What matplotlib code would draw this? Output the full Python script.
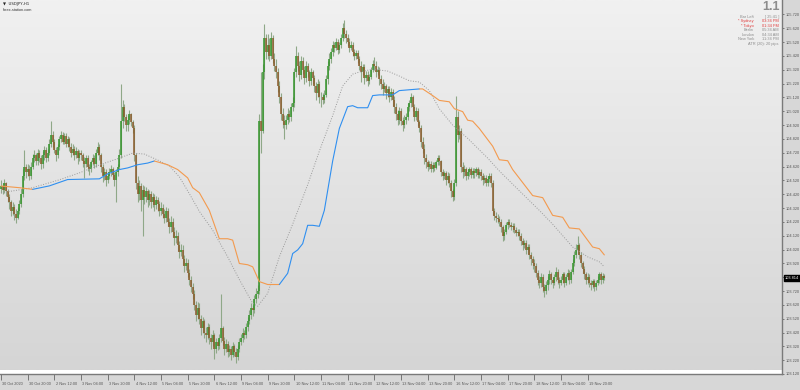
import numpy as np
import matplotlib
matplotlib.use("Agg")
import matplotlib.pyplot as plt
from matplotlib.colors import LinearSegmentedColormap
from matplotlib.transforms import ScaledTranslation, blended_transform_factory

# ---------------- data (USDJPY H1) ----------------
first_open = 104.46
closes = [
 104.48,104.45,104.50,104.44,104.40,104.36,104.30,104.33,104.28,104.25,104.30,104.35,104.42,104.55,104.62,104.58,
 104.60,104.55,104.62,104.68,104.70,104.66,104.72,104.68,104.64,104.70,104.74,104.68,104.72,104.78,104.85,104.80,
 104.74,104.70,104.76,104.82,104.85,104.80,104.84,104.78,104.82,104.76,104.72,104.75,104.70,104.73,104.68,104.72,
 104.70,104.66,104.64,104.68,104.62,104.60,104.65,104.68,104.64,104.72,104.76,104.70,104.62,104.55,104.58,104.52,
 104.55,104.58,104.60,104.56,104.52,104.58,104.62,104.70,104.95,105.05,104.98,104.92,104.96,105.00,104.94,104.90,
 104.70,104.50,104.42,104.48,104.38,104.45,104.40,104.44,104.38,104.42,104.36,104.40,104.34,104.38,104.35,104.30,
 104.32,104.28,104.25,104.30,104.22,104.18,104.22,104.15,104.10,104.12,104.05,104.00,104.02,103.95,103.90,103.92,
 103.85,103.80,103.75,103.70,103.62,103.55,103.60,103.52,103.45,103.50,103.42,103.40,103.46,103.38,103.35,103.40,
 103.30,103.35,103.32,103.38,103.45,103.36,103.30,103.34,103.28,103.30,103.26,103.32,103.28,103.24,103.30,103.35,
 103.38,103.42,103.40,103.46,103.50,103.55,103.60,103.58,103.66,103.70,103.72,104.95,104.88,105.30,105.55,105.45,
 105.50,105.42,105.55,105.40,105.35,105.30,105.20,105.12,105.00,104.95,104.92,104.96,105.00,104.98,105.05,105.08,
 105.30,105.42,105.35,105.28,105.38,105.32,105.26,105.35,105.30,105.24,105.30,105.26,105.20,105.15,105.22,105.12,
 105.12,105.10,105.14,105.25,105.35,105.40,105.45,105.50,105.48,105.52,105.46,105.50,105.55,105.62,105.58,105.55,
 105.52,105.48,105.50,105.45,105.42,105.44,105.40,105.35,105.30,105.34,105.26,105.28,105.24,105.27,105.32,105.36,
 105.35,105.30,105.32,105.25,105.22,105.18,105.20,105.15,105.18,105.12,105.16,105.10,105.05,105.00,104.96,105.02,
 104.95,104.92,104.96,104.98,105.05,105.08,105.12,105.05,104.98,105.02,104.94,104.90,104.80,104.75,104.68,104.65,
 104.62,104.64,104.60,104.63,104.61,104.65,104.68,104.66,104.58,104.55,104.57,104.52,104.55,104.50,104.44,104.40,
 104.50,104.98,104.85,104.88,104.62,104.58,104.60,104.55,104.58,104.60,104.56,104.59,104.57,104.60,104.56,104.58,
 104.55,104.52,104.54,104.50,104.53,104.55,104.50,104.30,104.26,104.25,104.24,104.22,104.18,104.12,104.15,104.20,
 104.22,104.20,104.18,104.19,104.16,104.14,104.15,104.12,104.08,104.05,104.07,104.02,104.04,103.98,103.95,103.92,
 103.90,103.85,103.80,103.78,103.82,103.75,103.72,103.76,103.80,103.84,103.80,103.78,103.82,103.86,103.80,103.78,
 103.80,103.84,103.78,103.82,103.85,103.80,103.86,103.92,103.98,104.02,104.05,103.98,103.92,103.88,103.84,103.80,
 103.82,103.78,103.76,103.79,103.75,103.78,103.80,103.84,103.80,103.83,103.814,
]
highs = [
 104.52,104.50,104.53,104.51,104.46,104.42,104.38,104.36,104.35,104.31,104.33,104.38,104.46,104.60,104.74,104.64,
 104.64,104.63,104.65,104.71,104.74,104.72,104.75,104.74,104.70,104.73,104.77,104.76,104.75,104.82,104.95,104.88,
 104.82,104.76,104.78,104.84,104.88,104.87,104.86,104.86,104.84,104.83,104.79,104.78,104.77,104.76,104.75,104.74,
 104.74,104.72,104.69,104.70,104.70,104.64,104.67,104.71,104.70,104.75,104.80,104.78,104.72,104.64,104.61,104.60,
 104.58,104.61,104.63,104.62,104.58,104.60,104.64,104.75,105.22,105.10,105.07,105.00,104.99,105.03,105.01,104.96,
 104.92,104.72,104.55,104.52,104.50,104.49,104.48,104.47,104.46,104.45,104.44,104.43,104.42,104.41,104.40,104.37,
 104.36,104.35,104.31,104.33,104.32,104.25,104.26,104.25,104.18,104.16,104.15,104.08,104.06,104.05,103.98,103.96,
 103.95,103.88,103.83,103.78,103.73,103.65,103.64,103.63,103.55,103.53,103.52,103.46,103.49,103.48,103.41,103.44,
 103.42,103.38,103.37,103.41,103.70,103.47,103.39,103.37,103.36,103.33,103.32,103.35,103.34,103.31,103.33,103.38,
 103.41,103.45,103.44,103.49,103.53,103.58,103.63,103.62,103.69,103.74,103.76,105.00,105.30,105.36,105.65,105.58,
 105.58,105.55,105.59,105.57,105.44,105.40,105.33,105.24,105.15,105.04,104.99,104.99,105.04,105.03,105.08,105.12,
 105.33,105.49,105.45,105.38,105.42,105.41,105.35,105.38,105.37,105.32,105.33,105.32,105.28,105.23,105.25,105.24,
 105.16,105.15,105.17,105.28,105.38,105.44,105.48,105.53,105.52,105.55,105.54,105.52,105.58,105.66,105.68,105.61,
 105.58,105.55,105.53,105.52,105.47,105.46,105.46,105.42,105.38,105.36,105.36,105.31,105.31,105.29,105.34,105.39,
 105.41,105.38,105.35,105.34,105.28,105.25,105.23,105.22,105.20,105.20,105.19,105.18,105.13,105.08,105.03,105.05,
 105.04,104.98,104.99,105.01,105.08,105.10,105.15,105.14,105.07,105.05,105.04,104.96,104.92,104.83,104.78,104.71,
 104.67,104.66,104.66,104.65,104.65,104.67,104.70,104.70,104.67,104.60,104.59,104.59,104.58,104.57,104.52,104.46,
 104.53,105.13,105.02,104.92,104.90,104.65,104.63,104.62,104.60,104.62,104.62,104.61,104.61,104.62,104.62,104.60,
 104.60,104.57,104.56,104.56,104.55,104.57,104.57,104.52,104.32,104.29,104.28,104.26,104.24,104.20,104.17,104.22,
 104.24,104.24,104.22,104.21,104.21,104.18,104.17,104.17,104.14,104.10,104.09,104.09,104.06,104.06,104.00,103.97,
 103.95,103.92,103.87,103.83,103.85,103.84,103.77,103.79,103.83,103.87,103.86,103.82,103.84,103.89,103.88,103.82,
 103.83,103.86,103.86,103.84,103.88,103.87,103.88,103.95,104.01,104.06,104.12,104.07,104.00,103.94,103.90,103.86,
 103.85,103.84,103.80,103.81,103.81,103.80,103.83,103.86,103.86,103.85,103.84,
]
lows = [
 104.43,104.42,104.43,104.41,104.36,104.31,104.26,104.27,104.23,104.21,104.24,104.28,104.33,104.40,104.52,104.54,
 104.55,104.52,104.53,104.60,104.65,104.63,104.63,104.65,104.60,104.61,104.67,104.65,104.66,104.70,104.76,104.76,
 104.72,104.66,104.68,104.74,104.80,104.78,104.78,104.76,104.76,104.73,104.69,104.70,104.67,104.68,104.64,104.66,
 104.67,104.62,104.54,104.62,104.59,104.56,104.58,104.63,104.61,104.62,104.70,104.67,104.58,104.51,104.52,104.48,
 104.50,104.53,104.55,104.53,104.48,104.36,104.55,104.60,104.68,104.90,104.95,104.88,104.88,104.93,104.91,104.86,
 104.66,104.46,104.36,104.38,104.30,104.12,104.35,104.36,104.33,104.34,104.32,104.33,104.30,104.31,104.30,104.26,
 104.27,104.25,104.21,104.22,104.19,104.14,104.15,104.11,104.05,104.07,104.01,103.96,103.97,103.91,103.86,103.87,
 103.82,103.76,103.71,103.66,103.58,103.50,103.52,103.48,103.40,103.42,103.38,103.35,103.37,103.34,103.30,103.32,
 103.23,103.27,103.29,103.30,103.35,103.33,103.26,103.28,103.24,103.25,103.22,103.24,103.25,103.20,103.22,103.28,
 103.33,103.35,103.37,103.38,103.43,103.48,103.52,103.54,103.56,103.63,103.67,103.70,104.72,104.86,105.25,105.40,
 105.40,105.38,105.40,105.37,105.31,105.26,105.16,105.08,104.96,104.90,104.82,104.89,104.93,104.94,104.95,105.02,
 105.05,105.27,105.31,105.24,105.25,105.29,105.22,105.23,105.27,105.20,105.21,105.22,105.16,105.10,105.12,105.08,
 105.05,105.07,105.08,105.12,105.22,105.32,105.37,105.42,105.45,105.46,105.43,105.44,105.48,105.53,105.55,105.51,
 105.49,105.45,105.46,105.42,105.39,105.40,105.37,105.32,105.23,105.28,105.22,105.24,105.20,105.22,105.25,105.30,
 105.32,105.27,105.28,105.21,105.18,105.14,105.16,105.11,105.12,105.09,105.10,105.06,105.01,104.96,104.92,104.93,
 104.92,104.88,104.90,104.93,104.96,105.02,105.05,105.02,104.95,104.96,104.91,104.87,104.76,104.72,104.64,104.61,
 104.59,104.60,104.58,104.58,104.59,104.60,104.63,104.63,104.55,104.52,104.53,104.49,104.50,104.47,104.40,104.37,
 104.38,104.48,104.80,104.82,104.58,104.54,104.55,104.52,104.53,104.55,104.54,104.54,104.54,104.55,104.54,104.54,
 104.52,104.49,104.50,104.48,104.48,104.51,104.47,104.27,104.23,104.22,104.21,104.19,104.15,104.08,104.09,104.13,
 104.17,104.18,104.16,104.15,104.14,104.12,104.12,104.09,104.05,104.02,104.03,103.99,103.99,103.95,103.91,103.88,
 103.86,103.82,103.76,103.74,103.75,103.71,103.68,103.70,103.73,103.77,103.77,103.74,103.76,103.79,103.77,103.74,
 103.76,103.78,103.75,103.76,103.80,103.77,103.78,103.84,103.90,103.96,103.99,103.95,103.89,103.85,103.81,103.77,
 103.77,103.75,103.73,103.74,103.72,103.73,103.76,103.78,103.77,103.78,103.80,
]

# trend line (orange = down, blue = up), sampled at bar indices
orange_a_bars = [0, 11, 19]
orange_a_vals = [104.479, 104.467, 104.455]
blue_a_bars = [19, 29, 40, 59, 64, 71, 76, 82, 88, 92]
blue_a_vals = [104.455, 104.480, 104.526, 104.531, 104.567, 104.598, 104.610, 104.633, 104.645, 104.660]
orange_b_bars = [92, 100, 106, 112, 115, 119, 125, 131, 136, 139, 143, 148, 151, 155, 160, 167]
orange_b_vals = [104.660, 104.633, 104.598, 104.538, 104.467, 104.431, 104.303, 104.098, 104.098, 104.088,
                 103.919, 103.910, 103.895, 103.788, 103.767, 103.767]
blue_b_bars = [167, 172, 175, 178, 181, 184, 187, 191, 194, 199, 203, 208, 211, 214, 220, 223, 227, 235, 239, 251]
blue_b_vals = [103.767, 103.848, 103.991, 104.017, 104.062, 104.195, 104.195, 104.188, 104.303, 104.660,
               104.895, 105.053, 105.060, 105.045, 105.045, 105.133, 105.138, 105.138, 105.169, 105.181]
orange_c_bars = [251, 253, 259, 263, 269, 272, 277, 280, 283, 287, 295, 299, 304, 307, 319, 325, 331, 337,
                 341, 347, 355, 359, 362]
orange_c_vals = [105.181, 105.181, 105.133, 105.098, 105.088, 105.038, 105.017, 104.955, 104.948, 104.895,
                 104.767, 104.669, 104.662, 104.598, 104.410, 104.395, 104.267, 104.253, 104.176, 104.169,
                 104.038, 104.026, 103.981]

# moving average (dotted gray)
sma_bars = [0, 19, 35, 47, 59, 71, 79, 86, 94, 101, 107, 113, 119, 127, 136, 143, 151, 154, 160, 167,
            175, 184, 191, 199, 205, 211, 215, 223, 232, 239, 245, 251, 257, 263, 271, 280, 292, 299, 311, 323,
            331, 343, 352, 359, 362]
sma_vals = [104.430, 104.467, 104.524, 104.574, 104.631, 104.681, 104.717, 104.710, 104.667, 104.624,
            104.546, 104.424, 104.296, 104.160, 103.967, 103.803, 103.631, 103.610, 103.703, 103.967,
            104.203, 104.488, 104.731, 104.988, 105.203, 105.288, 105.303, 105.324, 105.310, 105.274,
            105.240, 105.231, 105.169, 105.038, 104.919, 104.824, 104.681, 104.588, 104.445, 104.303,
            104.203, 104.038, 103.967, 103.931, 103.895]

x_tick_labels = ["30 Oct 2020", "30 Oct 20:00", "2 Nov 12:00", "3 Nov 04:00", "3 Nov 20:00", "4 Nov 12:00",
                 "5 Nov 04:00", "5 Nov 20:00", "6 Nov 12:00", "9 Nov 04:00", "9 Nov 20:00", "10 Nov 12:00",
                 "11 Nov 04:00", "11 Nov 20:00", "12 Nov 12:00", "13 Nov 04:00", "13 Nov 20:00", "16 Nov 12:00",
                 "17 Nov 04:00", "17 Nov 20:00", "18 Nov 12:00", "19 Nov 04:00", "19 Nov 20:00"]
x_tick_step = 16
current_price = 103.814
symbol_text = "USDJPY,H1"
site_text = "forex-station.com"
panel_big = "1.1"
panel_labels = ["Bar Left", "* Sydney", "* Tokyo", "Berlin", "London", "New York"]
panel_values = ["[ 25:41 ]", "03:34 PM", "01:34 PM", "05:34 AM", "04:34 AM", "11:34 PM"]
panel_atr = "ATR (20): 20 pips"

# ---------------- figure ----------------
W, H = 800, 390
fig = plt.figure(figsize=(W / 100, H / 100), dpi=100, facecolor="#d7d7d7")
ax = fig.add_axes([0.0, 16 / H, 782 / W, 374 / H])

c = np.array(closes)
hi = np.array(highs)
lo = np.array(lows)
o = np.concatenate([[first_open], c[:-1]])
n = len(c)
x = np.arange(n)

xlim = (-0.6, 468.6)
ylim = (103.152, 105.824)

bg = LinearSegmentedColormap.from_list("bg", ["#d5d5d5", "#f1f1f1"])
ax.imshow(np.linspace(0, 1, 256).reshape(-1, 1), extent=[xlim[0], xlim[1], ylim[0], ylim[1]],
          aspect="auto", cmap=bg, origin="lower", zorder=0, interpolation="bilinear")

top = np.maximum(hi, np.maximum(o, c))
bot = np.minimum(lo, np.minimum(o, c))
ax.vlines(x, bot, top, color="#8fa888", linewidth=0.8, zorder=2)
up = c >= o
body_lo = np.minimum(o, c)
body_hi = np.maximum(np.maximum(o, c), body_lo + 0.006)
ax.vlines(x[up], body_lo[up], body_hi[up], color="#33942a", linewidth=1.1, zorder=3, capstyle="butt")
ax.vlines(x[~up], body_lo[~up], body_hi[~up], color="#8a5a2a", linewidth=1.1, zorder=3, capstyle="butt")

ax.plot(sma_bars, sma_vals, color="#9a9a9a", linewidth=0.7, linestyle=(0, (1, 1.6)), zorder=4)
for bars, vals, col in [(orange_a_bars, orange_a_vals, "#f39a4e"), (blue_a_bars, blue_a_vals, "#2f8ff0"),
                        (orange_b_bars, orange_b_vals, "#f39a4e"), (blue_b_bars, blue_b_vals, "#2f8ff0"),
                        (orange_c_bars, orange_c_vals, "#f39a4e")]:
    ax.plot(bars, vals, color=col, linewidth=0.8, zorder=5, solid_capstyle="round")

ax.set_xlim(*xlim)
ax.set_ylim(*ylim)

for s in ["left", "top"]:
    ax.spines[s].set_visible(False)
for s in ["right", "bottom"]:
    ax.spines[s].set_color("#7a7a7a")
    ax.spines[s].set_linewidth(1.0)

font = "Liberation Sans"
ax.yaxis.tick_right()
yt = np.round(np.arange(103.12, 105.721, 0.1), 3)
ax.set_yticks(yt)
ax.set_yticklabels([f"{v:.3f}" for v in yt], fontsize=2.8, color="#555555", family=font)
ax.tick_params(axis="y", direction="out", length=1.5, width=0.6, color="#666666", pad=1.2)

xt = [i * x_tick_step for i in range(len(x_tick_labels))]
ax.set_xticks(xt)
ax.set_xticklabels(x_tick_labels, fontsize=2.8, color="#555555", family=font)
ax.tick_params(axis="x", direction="out", length=4, width=0.6, color="#666666", pad=1.5)
off = ScaledTranslation(1.5 / 100, 0, fig.dpi_scale_trans)
for lab in ax.get_xticklabels():
    lab.set_horizontalalignment("left")
    lab.set_transform(lab.get_transform() + off)

tr = blended_transform_factory(ax.transAxes, ax.transData)
ax.text(1.004, current_price, f"{current_price:.3f}", transform=tr, ha="left", va="center",
        fontsize=2.8, color="white", family=font, zorder=10,
        bbox=dict(boxstyle="square,pad=0.35", fc="black", ec="black"))


def px(xp, yp):
    return xp / W, 1 - yp / H


fig.text(*px(3, 4), "\u25bc  " + symbol_text, fontsize=2.8, color="#222222", family=["DejaVu Sans"],
         va="center", ha="left")
fig.text(*px(3, 10), site_text, fontsize=2.8, color="#333333", family=font, va="center", ha="left")

fig.text(*px(780, 1.5), panel_big, fontsize=9, color="#8c8c8c", family=font, ha="right", va="top",
         fontweight="bold")
for i, (lab, val) in enumerate(zip(panel_labels, panel_values)):
    yy = 16.8 + i * 4.5
    col = "#e03a3a" if lab.startswith("*") else "#8c8c8c"
    fig.text(*px(754, yy), lab, fontsize=2.8, color=col, family=font, ha="right", va="center")
    fig.text(*px(779, yy), val, fontsize=2.8, color=col, family=font, ha="right", va="center")
fig.text(*px(779, 16.8 + 6 * 4.5), panel_atr, fontsize=2.8, color="#8c8c8c", family=font, ha="right",
         va="center")

fig.savefig("out.png", dpi=100, facecolor=fig.get_facecolor())
